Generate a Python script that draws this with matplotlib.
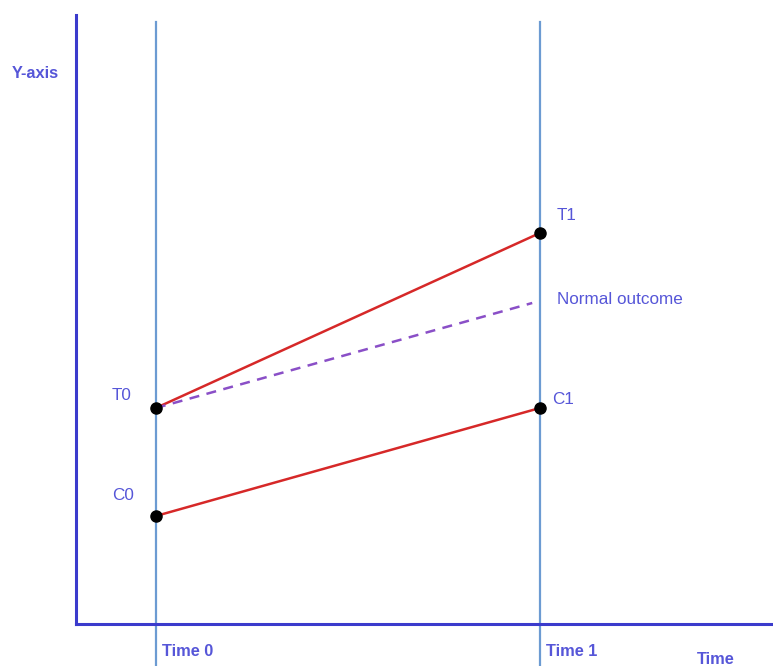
import matplotlib.pyplot as plt

plt.rcParams['font.family'] = ['Liberation Sans', 'DejaVu Sans']

# time points and outcomes
times = [0, 1]
time_labels = ['Time 0', 'Time 1']
treated = [2.16, 3.91]
control = [1.08, 2.16]
normal_x = [0, 0.98]
normal = [2.16, 3.21]

axis_col = '#3b3bcc'
vline_col = '#6c9bd2'
red = '#d62828'
purple = '#8a4fc7'
txt_col = '#5656d8'

fig = plt.figure(figsize=(7.73, 6.66), dpi=100)
ax = fig.add_axes([76 / 773, 42 / 666, 697 / 773, 609 / 666])
ax.set_xlim(-0.208, 1.607)
ax.set_ylim(0, 6.09)

for s in ['top', 'right']:
    ax.spines[s].set_visible(False)
for s in ['left', 'bottom']:
    ax.spines[s].set_color(axis_col)
    ax.spines[s].set_linewidth(2.2)
ax.set_xticks([])
ax.set_yticks([])

for t in times:
    ax.axvline(t, ymin=-0.07, ymax=0.988, color=vline_col, lw=1.6, clip_on=False, zorder=1)

ax.plot(times, treated, color=red, lw=1.8, zorder=2)
ax.plot(times, control, color=red, lw=1.8, zorder=2)
ax.plot(normal_x, normal, color=purple, lw=1.8, ls=(0, (4, 3)), zorder=2)
ax.plot(times, treated, 'o', color='black', ms=8, zorder=3)
ax.plot(times, control, 'o', color='black', ms=8, zorder=3)

fs = 12.3
ax.text(-0.09, treated[0] + 0.13, 'T0', color=txt_col, fontsize=fs, ha='center', va='center')
ax.text(-0.085, control[0] + 0.2, 'C0', color=txt_col, fontsize=fs, ha='center', va='center')
ax.text(1.07, treated[1] + 0.17, 'T1', color=txt_col, fontsize=fs, ha='center', va='center')
ax.text(1.06, control[1] + 0.09, 'C1', color=txt_col, fontsize=fs, ha='center', va='center')
ax.text(1.045, 3.24, 'Normal outcome', color=txt_col, fontsize=fs, ha='left', va='center')

fb = 11.8
for t, lab in zip(times, time_labels):
    ax.text(t + 0.017, -0.28, lab, color=txt_col, fontsize=fb, fontweight='bold', ha='left', va='center')
ax.text(1.41, -0.36, 'Time', color=txt_col, fontsize=fb, fontweight='bold', ha='left', va='center')
fig.text(12 / 773, 1 - 74 / 666, 'Y-axis', color=txt_col, fontsize=fb, fontweight='bold', ha='left', va='center')

fig.savefig('out.png', dpi=100)
